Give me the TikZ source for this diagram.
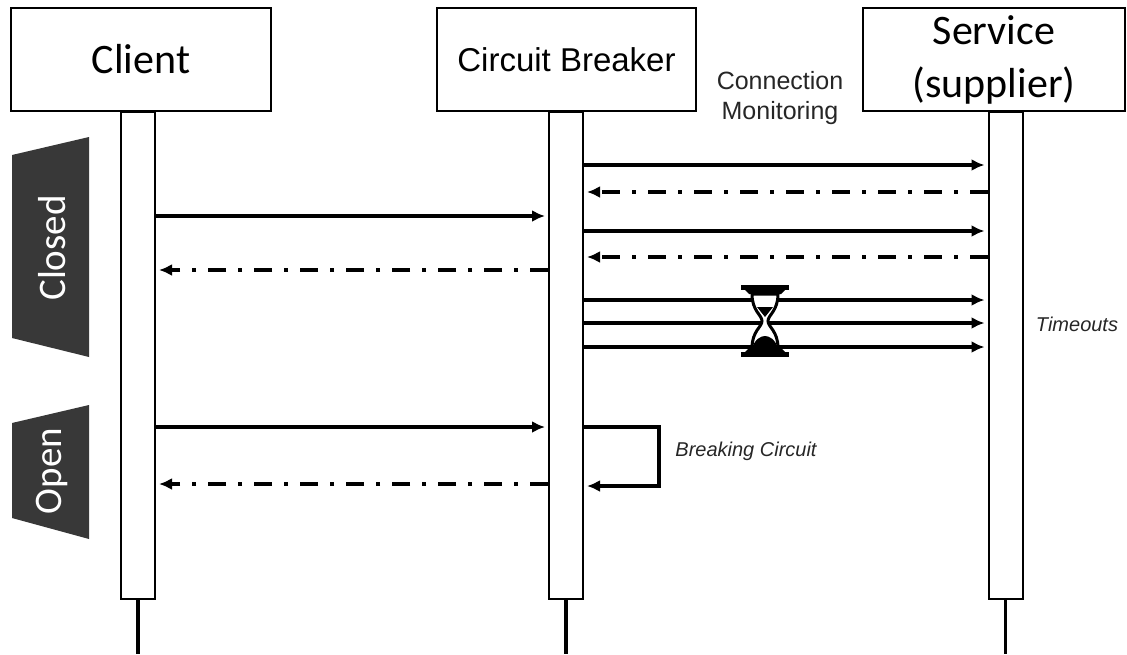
\documentclass[tikz,border=0pt]{standalone}
\usepackage{fontspec}
\setmainfont{Carlito}
\newfontfamily\helv{Liberation Sans}
\usetikzlibrary{positioning, shapes, arrows.meta}
\tikzstyle{point}  = [coordinate]
\tikzstyle{actor}  = [draw, rectangle, line width=2pt, fill=white, inner sep=0pt, minimum width=260pt, minimum height=103pt]
\tikzstyle{life}   = [draw, rectangle, line width=2pt, fill=white, inner sep=0pt, minimum width=34pt, minimum height=487pt, anchor=north]
\tikzstyle{stem}   = [line width=3.5pt]
\tikzstyle{call}   = [->, line width=3.5pt, shorten >=3pt]
\tikzstyle{reply}  = [call, line width=4pt, dash pattern=on 18pt off 12pt on 4pt off 12pt]
\tikzstyle{state}  = [fill=black!78, draw=none]
\tikzstyle{label}  = [text=white, rotate=90, font=\fontsize{39}{44}\selectfont]
\tikzstyle{note}   = [font=\helv\itshape\fontsize{20}{24}\selectfont, text=black!85]

\begin{document}
\begin{tikzpicture}[x=1pt, y=-1pt, >={Latex[length=13pt,width=12pt]}]
	\useasboundingbox (0,0) rectangle (1127,654);

	% participants
	\node [actor, font=\fontsize{42}{50}\selectfont] (client) at (141,59.5) {Client};
	\node [actor, minimum width=259pt, font=\helv\fontsize{33}{40}\selectfont] (cb) at (566.5,59.5) {Circuit Breaker};
	\node [actor, minimum width=262pt, align=center, font=\fontsize{42}{53}\selectfont] (svc) at (994,59.5) {Service\\(supplier)};
	\node [align=center, font=\helv\fontsize{25}{30}\selectfont, text=black!85] (mon) at (780,98) {Connection\\Monitoring};

	% lifelines
	\node [life] (clientbar) at (138,111) {};
	\node [life] (cbbar) at (566,111) {};
	\node [life] (svcbar) at (1005.5,111) {};
	\node [point] (ground) at (0,654) {};
	\draw [stem] (clientbar.south) -- (clientbar.south |- ground);
	\draw [stem] (cbbar.south) -- (cbbar.south |- ground);
	\draw [stem] (svcbar.south) -- (svcbar.south |- ground);

	% states
	\fill [state] (12,155) -- (89,137) -- (89,357) -- (12,338) -- cycle;
	\fill [state] (12,423) -- (89,405) -- (89,539) -- (12,518) -- cycle;
	\node [label] (closed) at (52,248) {Closed};
	\node [label] (open) at (52,471) {Open};

	% closed
	\foreach \y in {165,231,300,323,347}
		\draw [call] (cbbar.east |- 0,\y) -- (svcbar.west |- 0,\y);
	\foreach \y in {192,257}
		\draw [reply] (svcbar.west |- 0,\y) -- (cbbar.east |- 0,\y);
	\draw [call] (clientbar.east |- 0,216) -- (cbbar.west |- 0,216);
	\draw [reply] (cbbar.west |- 0,270) -- (clientbar.east |- 0,270);
	\node [note] (tmo) at (1077,324) {Timeouts};

	% hourglass
	\begin{scope}[shift={(765,321)}]
		\fill (-24,-36) rectangle (24,-31);
		\fill (-20,-31) -- (20,-31) -- (16,-27) -- (-16,-27) -- cycle;
		\fill (-24,36) rectangle (24,31);
		\fill (-20,31) -- (20,31) -- (16,27) -- (-16,27) -- cycle;
		\draw [line width=3pt, fill=white] (-13,-27) .. controls (-13,-10) and (-3,-6) .. (-3,0)
			.. controls (-3,6) and (-13,10) .. (-13,27) -- (13,27)
			.. controls (13,10) and (3,6) .. (3,0)
			.. controls (3,-6) and (13,-10) .. (13,-27) -- cycle;
		\fill (-8,-14) -- (8,-14) -- (0,-4) -- cycle;
		\fill (-13,27) .. controls (-10,18) and (-4,15) .. (0,15) .. controls (4,15) and (10,18) .. (13,27) -- cycle;
	\end{scope}

	% open
	\draw [call] (clientbar.east |- 0,427) -- (cbbar.west |- 0,427);
	\draw [reply] (cbbar.west |- 0,484) -- (clientbar.east |- 0,484);
	\draw [call] (cbbar.east |- 0,427) -- ++(75,0) |- (cbbar.east |- 0,486);
	\node [note] (brk) at (746,451) {Breaking Circuit};
\end{tikzpicture}
\end{document}
